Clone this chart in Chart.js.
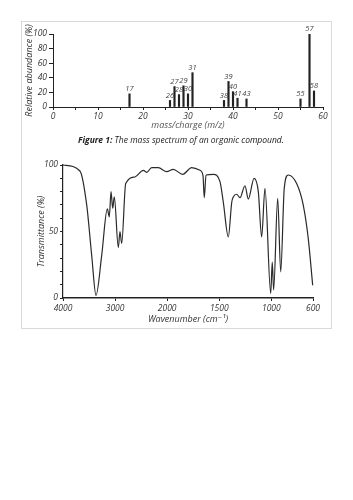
<!DOCTYPE html>
<html>
<head>
<meta charset="utf-8">
<script src="https://cdn.jsdelivr.net/npm/chart.js@4/dist/chart.umd.min.js"></script>
<style>
  html, body { margin: 0; padding: 0; background: #fff; }
  body { width: 353px; height: 500px; position: relative; overflow: hidden; font-family: 'Open Sans', sans-serif; }
  .frame { position: absolute; left: 21px; top: 21px; width: 309px; height: 306px; border: 1px solid #d9d9d9; }
  canvas { position: absolute; left: 0; }
  #ms { top: 0; }
  #ir { top: 150px; }
  .cap { position: absolute; font-style: italic; font-size: 8.5px; color: #222; white-space: nowrap; }
  .clip { position: absolute; left: 0; top: 325px; width: 353px; height: 3px; overflow: hidden; }
</style>
</head>
<body>
<div class="frame"></div>
<canvas id="ms" width="353" height="135"></canvas>
<div class="cap" style="left:78px; top:134px;"><b>Figure 1:</b> The mass spectrum of an organic <span style="color:#111">compound.</span></div>
<canvas id="ir" width="353" height="180"></canvas>
<div class="clip"><div class="cap" style="left:77px; top:1px;"><b>Figure 2:</b> The infrared spectrum of an organic compound.</div></div>
<script>
// ---------- Mass spectrum data ----------
const msMz        = [17, 26, 27, 28, 29, 30, 31, 38, 39, 40, 41, 43, 55, 57, 58];
const msAbundance = [18,  9, 28, 17, 29, 18, 47,  9, 35, 21, 12, 11, 11, 100, 22];
const msXTicks = [0, 10, 20, 30, 40, 50, 60];
const msYTicks = [0, 20, 40, 60, 80, 100];

// ---------- IR spectrum data ----------
const irWavenumber = [4000, 3675, 3545, 3449, 3366, 3257, 3149, 3111, 3078, 3046, 3015, 2938, 2906, 2873,
  2796, 2618, 2458, 2393, 2297, 2170, 2009, 1941, 1851, 1765, 1685, 1656, 1644, 1627, 1557, 1493, 1461,
  1413, 1380, 1365, 1333, 1301, 1253, 1221, 1166, 1125, 1093, 1061, 1006, 991, 978, 939, 910, 876, 838,
  757, 694, 646, 603];
const irTransmittance = [100, 95.5, 70, 32, 2, 32, 67, 61, 80, 67.5, 76, 38, 50, 41,
  86, 91, 96, 94.5, 98, 98, 95, 96.7, 93, 98, 96, 92, 75.4, 92.5, 93, 87.5, 72,
  46, 72, 76, 78, 75.4, 84.4, 74.4, 90, 80, 46, 82.4, 3.3, 27, 6, 75, 19.6, 82.4, 92.5,
  86, 70, 45, 9.6];
const irXTicks = [4000, 3000, 2000, 1500, 1000, 600];
const irYTicks = [0, 50, 100];

// IR axis is compressed 2:1 above 2000 cm-1
const toAxis = w => (w > 2000 ? 2000 + (w - 2000) / 2 : w);

const FONT = "'Open Sans', 'DejaVu Sans', sans-serif";
Chart.defaults.font.family = FONT;
Chart.defaults.font.style = 'italic';
Chart.defaults.color = '#333';

const ink = '#222';

// labels above the mass-spectrum peaks
const peakLabels = {
  id: 'peakLabels',
  afterDatasetsDraw(chart) {
    const ctx = chart.ctx;
    const meta = chart.getDatasetMeta(0);
    ctx.save();
    ctx.font = 'italic 7.5px ' + FONT;
    ctx.fillStyle = '#444';
    ctx.textAlign = 'center';
    ctx.textBaseline = 'bottom';
    meta.data.forEach((el, i) => {
      ctx.fillText(String(msMz[i]), el.x, el.y - 1);
    });
    ctx.restore();
  }
};

new Chart(document.getElementById('ms'), {
  type: 'bar',
  data: {
    datasets: [{
      data: msMz.map((m, i) => ({ x: m, y: msAbundance[i] })),
      backgroundColor: ink,
      borderWidth: 0,
      barThickness: 1.5
    }]
  },
  options: {
    responsive: false,
    animation: false,
    devicePixelRatio: 1,
    layout: { padding: { top: 34, right: 30, left: 0, bottom: 0 } },
    plugins: { legend: { display: false }, tooltip: { enabled: false } },
    scales: {
      x: {
        type: 'linear', min: 0, max: 60, offset: false,
        afterFit(s) { s.height = 28; },
        ticks: {
          stepSize: 5, autoSkip: false, maxRotation: 0, padding: 1,
          font: { size: 8.5, style: 'italic' }, color: '#333',
          callback: v => (msXTicks.includes(v) ? String(v) : '')
        },
        grid: { drawOnChartArea: false, tickLength: 3, color: ink, offset: false },
        border: { color: ink, width: 1 },
        title: { display: true, text: 'mass/charge (m/z)', color: '#555',
          font: { size: 9, style: 'italic' }, padding: { top: 0, bottom: 4 } }
      },
      y: {
        min: 0, max: 100,
        afterFit(s) { s.width = 53; },
        afterBuildTicks(s) { s.ticks = msYTicks.map(v => ({ value: v })); },
        ticks: { padding: 2, font: { size: 8.5, style: 'italic' }, color: '#333' },
        grid: { drawOnChartArea: false, tickLength: 4, color: ink },
        border: { color: ink, width: 1 },
        title: { display: true, text: 'Relative abundance (%)', color: '#333',
          font: { size: 9, style: 'italic' }, padding: { top: 24, bottom: 0 } }
      }
    }
  },
  plugins: [peakLabels]
});

new Chart(document.getElementById('ir'), {
  type: 'line',
  data: {
    datasets: [{
      data: irWavenumber.map((w, i) => ({ x: toAxis(w), y: irTransmittance[i] })),
      borderColor: '#2a2a2a',
      borderWidth: 1.2,
      pointRadius: 0,
      fill: false,
      cubicInterpolationMode: 'monotone',
      clip: 4
    }]
  },
  options: {
    responsive: false,
    animation: false,
    devicePixelRatio: 1,
    layout: { padding: { top: 15, right: 40, left: 0, bottom: 0 } },
    plugins: { legend: { display: false }, tooltip: { enabled: false } },
    scales: {
      x: {
        type: 'linear', reverse: true, min: 600, max: 3000,
        afterFit(s) { s.height = 32; },
        afterBuildTicks(s) { s.ticks = irXTicks.map(w => ({ value: toAxis(w) })); },
        ticks: {
          autoSkip: false, maxRotation: 0, padding: 2,
          font: { size: 8.5, style: 'italic' }, color: '#333',
          callback: (v, i) => String(irXTicks[i])
        },
        grid: { drawOnChartArea: false, tickLength: 3, color: ink },
        border: { color: ink, width: 1.5 },
        title: { display: true, text: 'Wavenumber (cm\u207B\u00B9)', color: '#333',
          font: { size: 9, style: 'italic' }, padding: { top: 0, bottom: 5.5 } }
      },
      y: {
        min: 0, max: 100,
        afterFit(s) { s.width = 63; },
        ticks: {
          stepSize: 10, autoSkip: false, padding: 2,
          font: { size: 8.5, style: 'italic' }, color: '#333',
          callback: v => (irYTicks.includes(v) ? String(v) : '')
        },
        grid: { drawOnChartArea: false, tickLength: 3, color: ink },
        border: { color: ink, width: 1.2 },
        title: { display: true, text: 'Transmittance (%)', color: '#333',
          font: { size: 9, style: 'italic' }, padding: { top: 36, bottom: 0 } }
      }
    }
  }
});
</script>
</body>
</html>
